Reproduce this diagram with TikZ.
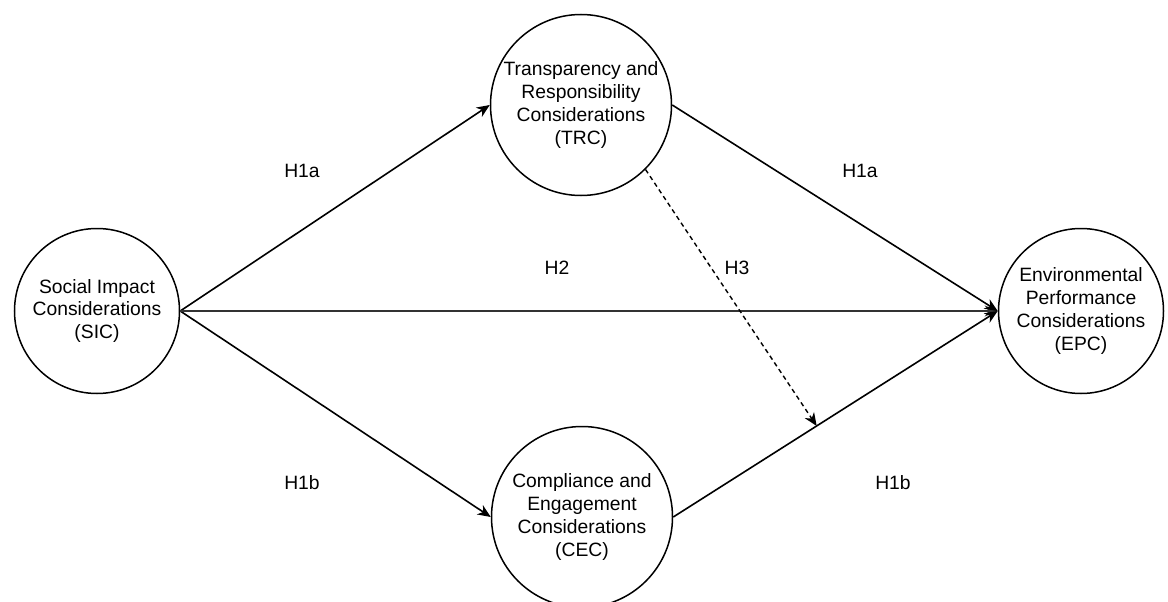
\documentclass[tikz,border=0pt]{standalone}
\usepackage{fontspec}
\setmainfont{Liberation Sans}
\usetikzlibrary{arrows.meta,calc}
\begin{document}
\begin{tikzpicture}[x=1pt,y=1pt,
  construct/.style={draw=black, line width=1.5pt, circle, inner sep=0pt, align=center,
    font=\fontsize{19.3}{22.8}\selectfont},
  small/.style={construct, minimum size=165pt},
  big/.style={construct, minimum size=181pt},
  link/.style={line width=1.6pt, -{Stealth[length=13pt,width=11pt,inset=4pt]}},
  direct/.style={link, line width=1.9pt, draw=black!80},
  mediate/.style={link, line width=1.4pt, dash pattern=on 4.5pt off 3.5pt},
  hyp/.style={font=\fontsize{19.3}{22.8}\selectfont, inner sep=0pt}]
\useasboundingbox (0,0) rectangle (1168,-602);
\fill[white] (0,0) rectangle (1168,-602);
\node[small] (SIC) at (97,-311) {Social Impact\\Considerations\\(SIC)};
\node[big] (TRC) at (581,-105) {Transparency and\\Responsibility\\Considerations\\(TRC)};
\node[big] (CEC) at (582,-517) {Compliance and\\Engagement\\Considerations\\(CEC)};
\node[small] (EPC) at (1081,-311) {Environmental\\Performance\\Considerations\\(EPC)};
\draw[link] (SIC.east) -- (TRC.west);
\draw[link] (SIC.east) -- (CEC.west);
\draw[direct] (SIC.east) -- (EPC.west);
\draw[link] (TRC.east) -- (EPC.west);
\draw[link] (CEC.east) -- (EPC.west);
\coordinate (M) at ($(CEC.east)!0.442!(EPC.west)$);
\draw[mediate] (TRC.-45) -- (M);
\node[hyp] (h1) at (302,-171) {H1a};
\node[hyp] (h2) at (860,-171) {H1a};
\node[hyp] (h3) at (557,-268) {H2};
\node[hyp] (h4) at (737,-268) {H3};
\node[hyp] (h5) at (302,-483) {H1b};
\node[hyp] (h6) at (893,-483) {H1b};
\end{tikzpicture}
\end{document}
